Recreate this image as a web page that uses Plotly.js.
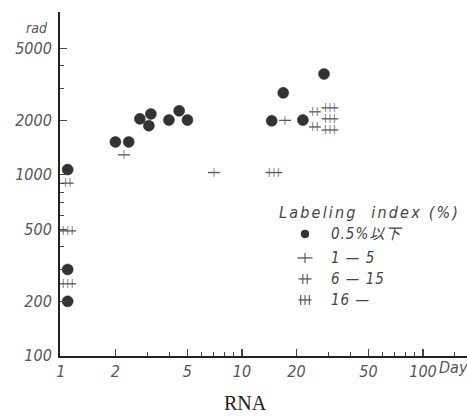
<!DOCTYPE html>
<html><head><meta charset="utf-8">
<script src="https://cdn.plot.ly/plotly-3.0.1.min.js"></script>
<style>html,body{margin:0;padding:0;background:#fff}#chart{width:467px;height:417px}</style>
</head><body><div id="chart"></div>
<script>
// ---- data ----
const circleX = [1.09, 1.09, 1.09, 2.0, 2.37, 2.73, 3.14, 3.06, 3.95, 4.5, 5.0, 14.6, 16.9, 21.7, 28.4];
const circleY = [1070, 300, 200, 1520, 1520, 2040, 2170, 1870, 2010, 2260, 2010, 1990, 2840, 2010, 3610];
const plus1X = [2.23, 7.0, 17.3];
const plus1Y = [1290, 1030, 2000];
const plus2X = [1.09, 25.3, 25.3];
const plus2Y = [900, 2230, 1840];
const plus3X = [1.09, 1.09, 15.0, 30.6, 30.6, 30.6];
const plus3Y = [490, 250, 1030, 2345, 2040, 1770];
const xTickVals = [1, 2, 5, 10, 20, 50, 100];
const xTickText = ['1', '2', '5', '10', '20', '50', '100'];
const xMinorVals = [3, 4, 6, 7, 8, 9, 30, 40, 60, 70, 80, 90, 150];
const yTickVals = [100, 200, 500, 1000, 2000, 5000];
const yTickText = ['100', '200', '500', '1000', '2000', '5000'];
const yMinorVals = [300, 400, 600, 700, 800, 900, 3000, 4000];
const legendTitle = 'Labeling\u00a0 index (%)';
const legendLabels = ['0.5%以下', '1 — 5', '6 — 15', '16 —'];

// ---- styling ----
const ink = '#555555';
const condFam = 'DejaVu Sans Condensed, DejaVu Sans, sans-serif';
const tickFont = {family: condFam, size: 16, color: '#555', style: 'italic'};
const vbar = n => Array(n).fill('|').join('\u2009');

function crossTrace(xs, ys, n, hw) {
  return {
    x: xs, y: ys, type: 'scatter', mode: 'markers+text',
    marker: {symbol: 'line-ew', size: hw, color: ink, line: {color: ink, width: 1.3}},
    text: xs.map(() => vbar(n)), textposition: 'middle center',
    textfont: {family: 'DejaVu Sans, sans-serif', size: 8.5, color: ink},
    hoverinfo: 'skip', cliponaxis: false
  };
}

const traces = [
  {x: circleX, y: circleY, type: 'scatter', mode: 'markers',
   marker: {size: 11, color: '#333', line: {color: '#222', width: 0.5}}, cliponaxis: false},
  crossTrace(plus1X, plus1Y, 1, 8.5),
  crossTrace(plus2X, plus2Y, 2, 8.5),
  crossTrace(plus3X, plus3Y, 3, 12)
];

// legend geometry (paper coords)
const legX = 0.602, legLabelX = 0.66, legTitleX = 0.533, legTitleY = 0.416;
const rowY = [0.355, 0.285, 0.224, 0.163];

const shapes = [];
shapes.push({type: 'circle', xref: 'paper', yref: 'paper', xsizemode: 'pixel', ysizemode: 'pixel',
  xanchor: legX, yanchor: rowY[0], x0: -4, x1: 4, y0: -4, y1: 4,
  fillcolor: '#333', line: {color: '#222', width: 0.5}});
[1, 2, 3].forEach(n => {
  const ya = rowY[n];
  const hw = n === 1 ? 7.5 : 6.5;
  shapes.push({type: 'line', xref: 'paper', yref: 'paper', xsizemode: 'pixel', ysizemode: 'pixel',
    xanchor: legX, yanchor: ya, x0: -hw, x1: hw, y0: 0, y1: 0, line: {color: ink, width: 1.3}});
  const gap = 4.3;
  for (let i = 0; i < n; i++) {
    const off = (i - (n - 1) / 2) * gap;
    shapes.push({type: 'line', xref: 'paper', yref: 'paper', xsizemode: 'pixel', ysizemode: 'pixel',
      xanchor: legX, yanchor: ya, x0: off, x1: off, y0: -5, y1: 5, line: {color: ink, width: 1.1}});
  }
});

const annotations = [
  {text: 'rad', xref: 'paper', yref: 'paper', x: -0.057, y: 0.953, xanchor: 'center', yanchor: 'middle',
   showarrow: false, font: {family: condFam, size: 14, color: '#555', style: 'italic'}},
  {text: 'Day', xref: 'x', yref: 'paper', x: 2, xshift: 14, y: -0.032, xanchor: 'left', yanchor: 'middle',
   showarrow: false, font: tickFont},
  {text: 'RNA', xref: 'paper', yref: 'paper', x: 0.457, y: -0.138, xanchor: 'center', yanchor: 'middle',
   showarrow: false, font: {family: 'Liberation Serif, serif', size: 20, color: '#222'}},
  {text: '<span style="letter-spacing:2.2px">' + legendTitle + '</span>', xref: 'paper', yref: 'paper',
   x: legTitleX, y: legTitleY, xanchor: 'left', yanchor: 'middle',
   showarrow: false, font: {family: condFam, size: 16, color: '#444', style: 'italic'}}
];
legendLabels.forEach((t, i) => annotations.push({text: '<span style="letter-spacing:1px">' + t + '</span>',
  xref: 'paper', yref: 'paper', x: legLabelX, y: rowY[i],
  xanchor: 'left', yanchor: 'middle', showarrow: false,
  font: {family: 'DejaVu Sans Condensed, DejaVu Sans, Noto Sans CJK JP, sans-serif', size: 15, color: '#444', style: 'italic'}}));

const axisCommon = {
  type: 'log', showline: true, linecolor: '#222', linewidth: 2, showgrid: false, zeroline: false,
  ticks: 'inside', ticklen: 7, tickwidth: 1.2, tickcolor: '#444', tickmode: 'array', tickfont: tickFont
};

const layout = {
  width: 467, height: 417, margin: {l: 60, r: 0, t: 12, b: 61},
  paper_bgcolor: '#fff', plot_bgcolor: '#fff', showlegend: false,
  xaxis: Object.assign({}, axisCommon, {range: [-0.005, 2.243], tickvals: xTickVals, ticktext: xTickText,
    minor: {ticks: 'inside', ticklen: 4, tickwidth: 1, tickcolor: '#444', tickvals: xMinorVals, showgrid: false}}),
  yaxis: Object.assign({}, axisCommon, {range: [1.999, 3.9], tickvals: yTickVals, ticktext: yTickText,
    ticklabelstandoff: 3,
    minor: {ticks: 'inside', ticklen: 4, tickwidth: 1, tickcolor: '#444', tickvals: yMinorVals, showgrid: false}}),
  shapes: shapes, annotations: annotations
};

Plotly.newPlot('chart', traces, layout, {staticPlot: true, displayModeBar: false});
</script></body></html>
